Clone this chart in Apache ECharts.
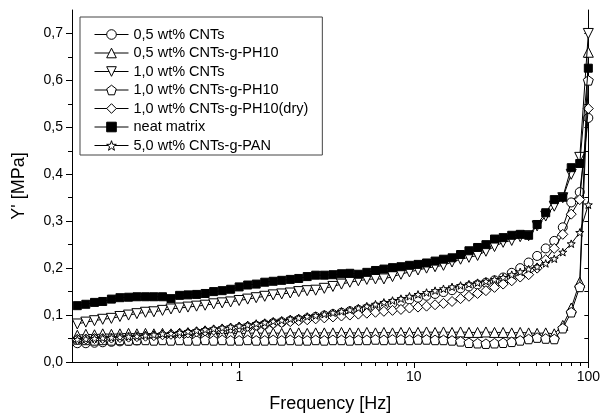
<!DOCTYPE html>
<html><head><meta charset="utf-8">
<script src="https://cdn.jsdelivr.net/npm/echarts@6/dist/echarts.min.js"></script>
<style>html,body{margin:0;padding:0;background:#fff}#c{width:603px;height:418px}</style>
</head><body><div id="c"></div>
<script>
// ---- data ----
const freq = [0.118,0.132,0.148,0.165,0.185,0.207,0.232,0.259,0.290,0.324,0.363,0.406,0.455,0.508,0.569,0.637,0.713,0.798,0.892,0.998,1.117,1.250,1.399,1.564,1.750,1.959,2.19,2.45,2.74,3.07,3.44,3.85,4.30,4.81,5.38,6.03,6.74,7.55,8.44,9.44,10.57,11.83,13.24,14.79,16.56,18.53,20.7,23.2,25.9,29.0,32.5,36.4,40.7,45.5,50.9,57.0,63.8,71.4,79.8,89.3,100];

const cnt05 = [0.040,0.040,0.041,0.042,0.043,0.044,0.045,0.046,0.048,0.050,0.052,0.054,0.056,0.058,0.060,0.062,0.064,0.066,0.068,0.071,0.074,0.077,0.080,0.083,0.085,0.088,0.090,0.093,0.096,0.099,0.102,0.105,0.108,0.111,0.114,0.117,0.121,0.125,0.129,0.133,0.137,0.141,0.145,0.149,0.153,0.157,0.161,0.165,0.169,0.174,0.180,0.190,0.200,0.212,0.226,0.242,0.258,0.287,0.340,0.362,0.520];
const ph05 = [0.057,0.059,0.058,0.060,0.059,0.060,0.061,0.060,0.061,0.060,0.061,0.060,0.061,0.061,0.060,0.061,0.061,0.060,0.061,0.061,0.061,0.062,0.061,0.062,0.061,0.062,0.062,0.061,0.062,0.062,0.062,0.063,0.062,0.062,0.063,0.062,0.063,0.062,0.063,0.063,0.063,0.064,0.063,0.064,0.063,0.064,0.063,0.063,0.064,0.063,0.063,0.062,0.063,0.062,0.061,0.062,0.060,0.078,0.115,0.170,0.660];
const cnt10 = [0.081,0.085,0.088,0.091,0.093,0.097,0.100,0.103,0.106,0.107,0.110,0.113,0.115,0.117,0.119,0.121,0.124,0.126,0.128,0.131,0.134,0.137,0.140,0.143,0.145,0.147,0.150,0.152,0.153,0.157,0.161,0.166,0.170,0.173,0.176,0.177,0.177,0.182,0.187,0.192,0.196,0.200,0.203,0.206,0.213,0.219,0.223,0.227,0.236,0.246,0.255,0.259,0.267,0.269,0.290,0.311,0.332,0.350,0.400,0.436,0.700];
const ph10 = [0.048,0.047,0.046,0.047,0.046,0.047,0.046,0.047,0.047,0.046,0.047,0.046,0.047,0.046,0.046,0.047,0.046,0.047,0.046,0.046,0.047,0.046,0.046,0.047,0.046,0.047,0.046,0.046,0.047,0.046,0.047,0.047,0.046,0.047,0.047,0.048,0.047,0.048,0.048,0.047,0.048,0.048,0.047,0.047,0.046,0.044,0.041,0.040,0.039,0.040,0.041,0.043,0.046,0.049,0.052,0.050,0.049,0.072,0.106,0.160,0.600];
const ph10dry = [0.048,0.049,0.050,0.050,0.051,0.052,0.053,0.054,0.055,0.056,0.058,0.059,0.061,0.062,0.064,0.066,0.068,0.070,0.072,0.074,0.076,0.078,0.080,0.082,0.084,0.086,0.088,0.090,0.092,0.094,0.096,0.098,0.100,0.102,0.104,0.106,0.108,0.110,0.112,0.115,0.117,0.119,0.122,0.125,0.129,0.135,0.140,0.146,0.152,0.159,0.166,0.173,0.181,0.186,0.200,0.218,0.242,0.272,0.315,0.346,0.540];
const neat = [0.120,0.123,0.127,0.129,0.134,0.137,0.138,0.139,0.139,0.139,0.139,0.135,0.142,0.143,0.144,0.146,0.150,0.152,0.155,0.160,0.164,0.166,0.170,0.172,0.174,0.176,0.178,0.182,0.185,0.185,0.186,0.188,0.189,0.187,0.191,0.195,0.198,0.201,0.203,0.206,0.208,0.211,0.215,0.219,0.222,0.229,0.237,0.244,0.250,0.262,0.265,0.270,0.272,0.270,0.293,0.318,0.346,0.351,0.414,0.423,0.626];
const pan50 = [0.048,0.049,0.050,0.051,0.052,0.053,0.054,0.055,0.057,0.058,0.060,0.061,0.063,0.065,0.067,0.069,0.071,0.073,0.075,0.077,0.079,0.082,0.084,0.087,0.089,0.092,0.094,0.097,0.099,0.102,0.105,0.108,0.111,0.115,0.119,0.123,0.127,0.131,0.135,0.140,0.144,0.148,0.152,0.156,0.160,0.163,0.166,0.169,0.172,0.176,0.180,0.186,0.192,0.198,0.203,0.210,0.220,0.234,0.252,0.276,0.335];

const seriesNames = ['0,5 wt% CNTs','0,5 wt% CNTs-g-PH10','1,0 wt% CNTs','1,0 wt% CNTs-g-PH10','1,0 wt% CNTs-g-PH10(dry)','neat matrix','5,0 wt% CNTs-g-PAN'];

const xMajorTicks = [1, 10, 100];
const xMinorTicks = [0.2,0.3,0.4,0.5,0.6,0.7,0.8,0.9,2,3,4,5,6,7,8,9,20,30,40,50,60,70,80,90];
const yMajorTicks = [0,0.1,0.2,0.3,0.4,0.5,0.6,0.7];
const yMinorTicks = [0.05,0.15,0.25,0.35,0.45,0.55,0.65];

// ---- chart ----
const FONT = 'Liberation Sans, Arial, sans-serif';
const PENTAGON = 'path://M0,-1 L0.951,-0.309 L0.588,0.809 L-0.588,0.809 L-0.951,-0.309 Z';
const STAR = 'path://M0,-1 L0.235,-0.324 L0.951,-0.309 L0.380,0.124 L0.588,0.809 L0,0.4 L-0.588,0.809 L-0.380,0.124 L-0.951,-0.309 L-0.235,-0.324 Z';

const styles = [
  {values: cnt05, symbol: 'circle', size: 9, fill: '#fff'},
  {values: ph05, symbol: 'triangle', size: 10, fill: '#fff'},
  {values: cnt10, symbol: 'triangle', size: 10, fill: '#fff', rotate: 180},
  {values: ph10, symbol: PENTAGON, size: 10, fill: '#fff'},
  {values: ph10dry, symbol: 'diamond', size: 10, fill: '#fff'},
  {values: neat, symbol: 'rect', size: 8, fill: '#000'},
  {values: pan50, symbol: STAR, size: 8, fill: '#fff'}
];

const series = styles.map((s, k) => ({
  name: seriesNames[k],
  type: 'line',
  xAxisIndex: 0, yAxisIndex: 0,
  data: freq.map((f, i) => [f, s.values[i]]),
  symbol: s.symbol,
  symbolSize: s.size,
  symbolRotate: s.rotate || 0,
  symbolKeepAspect: true,
  showAllSymbol: true,
  lineStyle: {color: '#000', width: 1},
  itemStyle: {color: s.fill, borderColor: '#000', borderWidth: 1},
  emphasis: {disabled: true},
  z: 2 + k
}));

const axLine = {show: true, lineStyle: {color: '#000', width: 1}};
const chart = echarts.init(document.getElementById('c'), null, {renderer: 'canvas'});
chart.setOption({
  animation: false,
  backgroundColor: '#fff',
  grid: {left: 72, right: 11, top: 10, bottom: 55, containLabel: false},
  xAxis: [
    {type: 'log', logBase: 10, min: 0.11, max: 100, position: 'bottom',
     axisLine: axLine,
     axisTick: {show: true, customValues: xMajorTicks, length: 6, lineStyle: {color: '#000'}},
     axisLabel: {customValues: xMajorTicks, formatter: v => String(Math.round(v)), margin: 8, fontSize: 14, fontFamily: FONT, color: '#000'},
     splitLine: {show: false}, minorTick: {show: false},
     name: 'Frequency [Hz]', nameLocation: 'middle', nameGap: 33,
     nameTextStyle: {fontSize: 18, fontFamily: FONT, color: '#000'}},
    {type: 'log', logBase: 10, min: 0.11, max: 100, position: 'bottom',
     axisLine: {show: false},
     axisTick: {show: true, customValues: xMinorTicks, length: 4, lineStyle: {color: '#000'}},
     axisLabel: {show: false}, splitLine: {show: false}},
    {type: 'log', logBase: 10, min: 0.11, max: 100, position: 'top',
     axisLine: axLine,
     axisTick: {show: true, inside: true, customValues: xMinorTicks.concat(xMajorTicks), length: 3, lineStyle: {color: '#000'}},
     axisLabel: {show: false}, splitLine: {show: false}}
  ],
  yAxis: [
    {type: 'value', min: 0, max: 0.75, position: 'left',
     axisLine: axLine,
     axisTick: {show: true, customValues: yMajorTicks, length: 6, lineStyle: {color: '#000'}},
     axisLabel: {customValues: yMajorTicks, formatter: v => v.toFixed(1).replace('.', ','), margin: 9, fontSize: 14, fontFamily: FONT, color: '#000'},
     splitLine: {show: false},
     name: "Y' [MPa]", nameLocation: 'middle', nameGap: 44,
     nameTextStyle: {fontSize: 18, fontFamily: FONT, color: '#000'}},
    {type: 'value', min: 0, max: 0.75, position: 'left',
     axisLine: {show: false},
     axisTick: {show: true, customValues: yMinorTicks, length: 4, lineStyle: {color: '#000'}},
     axisLabel: {show: false}, splitLine: {show: false}},
    {type: 'value', min: 0, max: 0.75, position: 'right',
     axisLine: axLine,
     axisTick: {show: true, inside: true, customValues: yMajorTicks.concat(yMinorTicks), length: 4, lineStyle: {color: '#000'}},
     axisLabel: {show: false}, splitLine: {show: false}}
  ],
  legend: {
    orient: 'vertical', left: 80, top: 17,
    padding: [10, 14, 2, 14],
    itemWidth: 34, itemHeight: 12, itemGap: 3.5,
    backgroundColor: '#fff', borderColor: '#444', borderWidth: 1, borderRadius: 0,
    itemStyle: {borderWidth: 1},
    lineStyle: {width: 1},
    textStyle: {fontSize: 14.5, fontFamily: FONT, color: '#000'},
    data: seriesNames
  },
  series: series
});
</script>
</body></html>
